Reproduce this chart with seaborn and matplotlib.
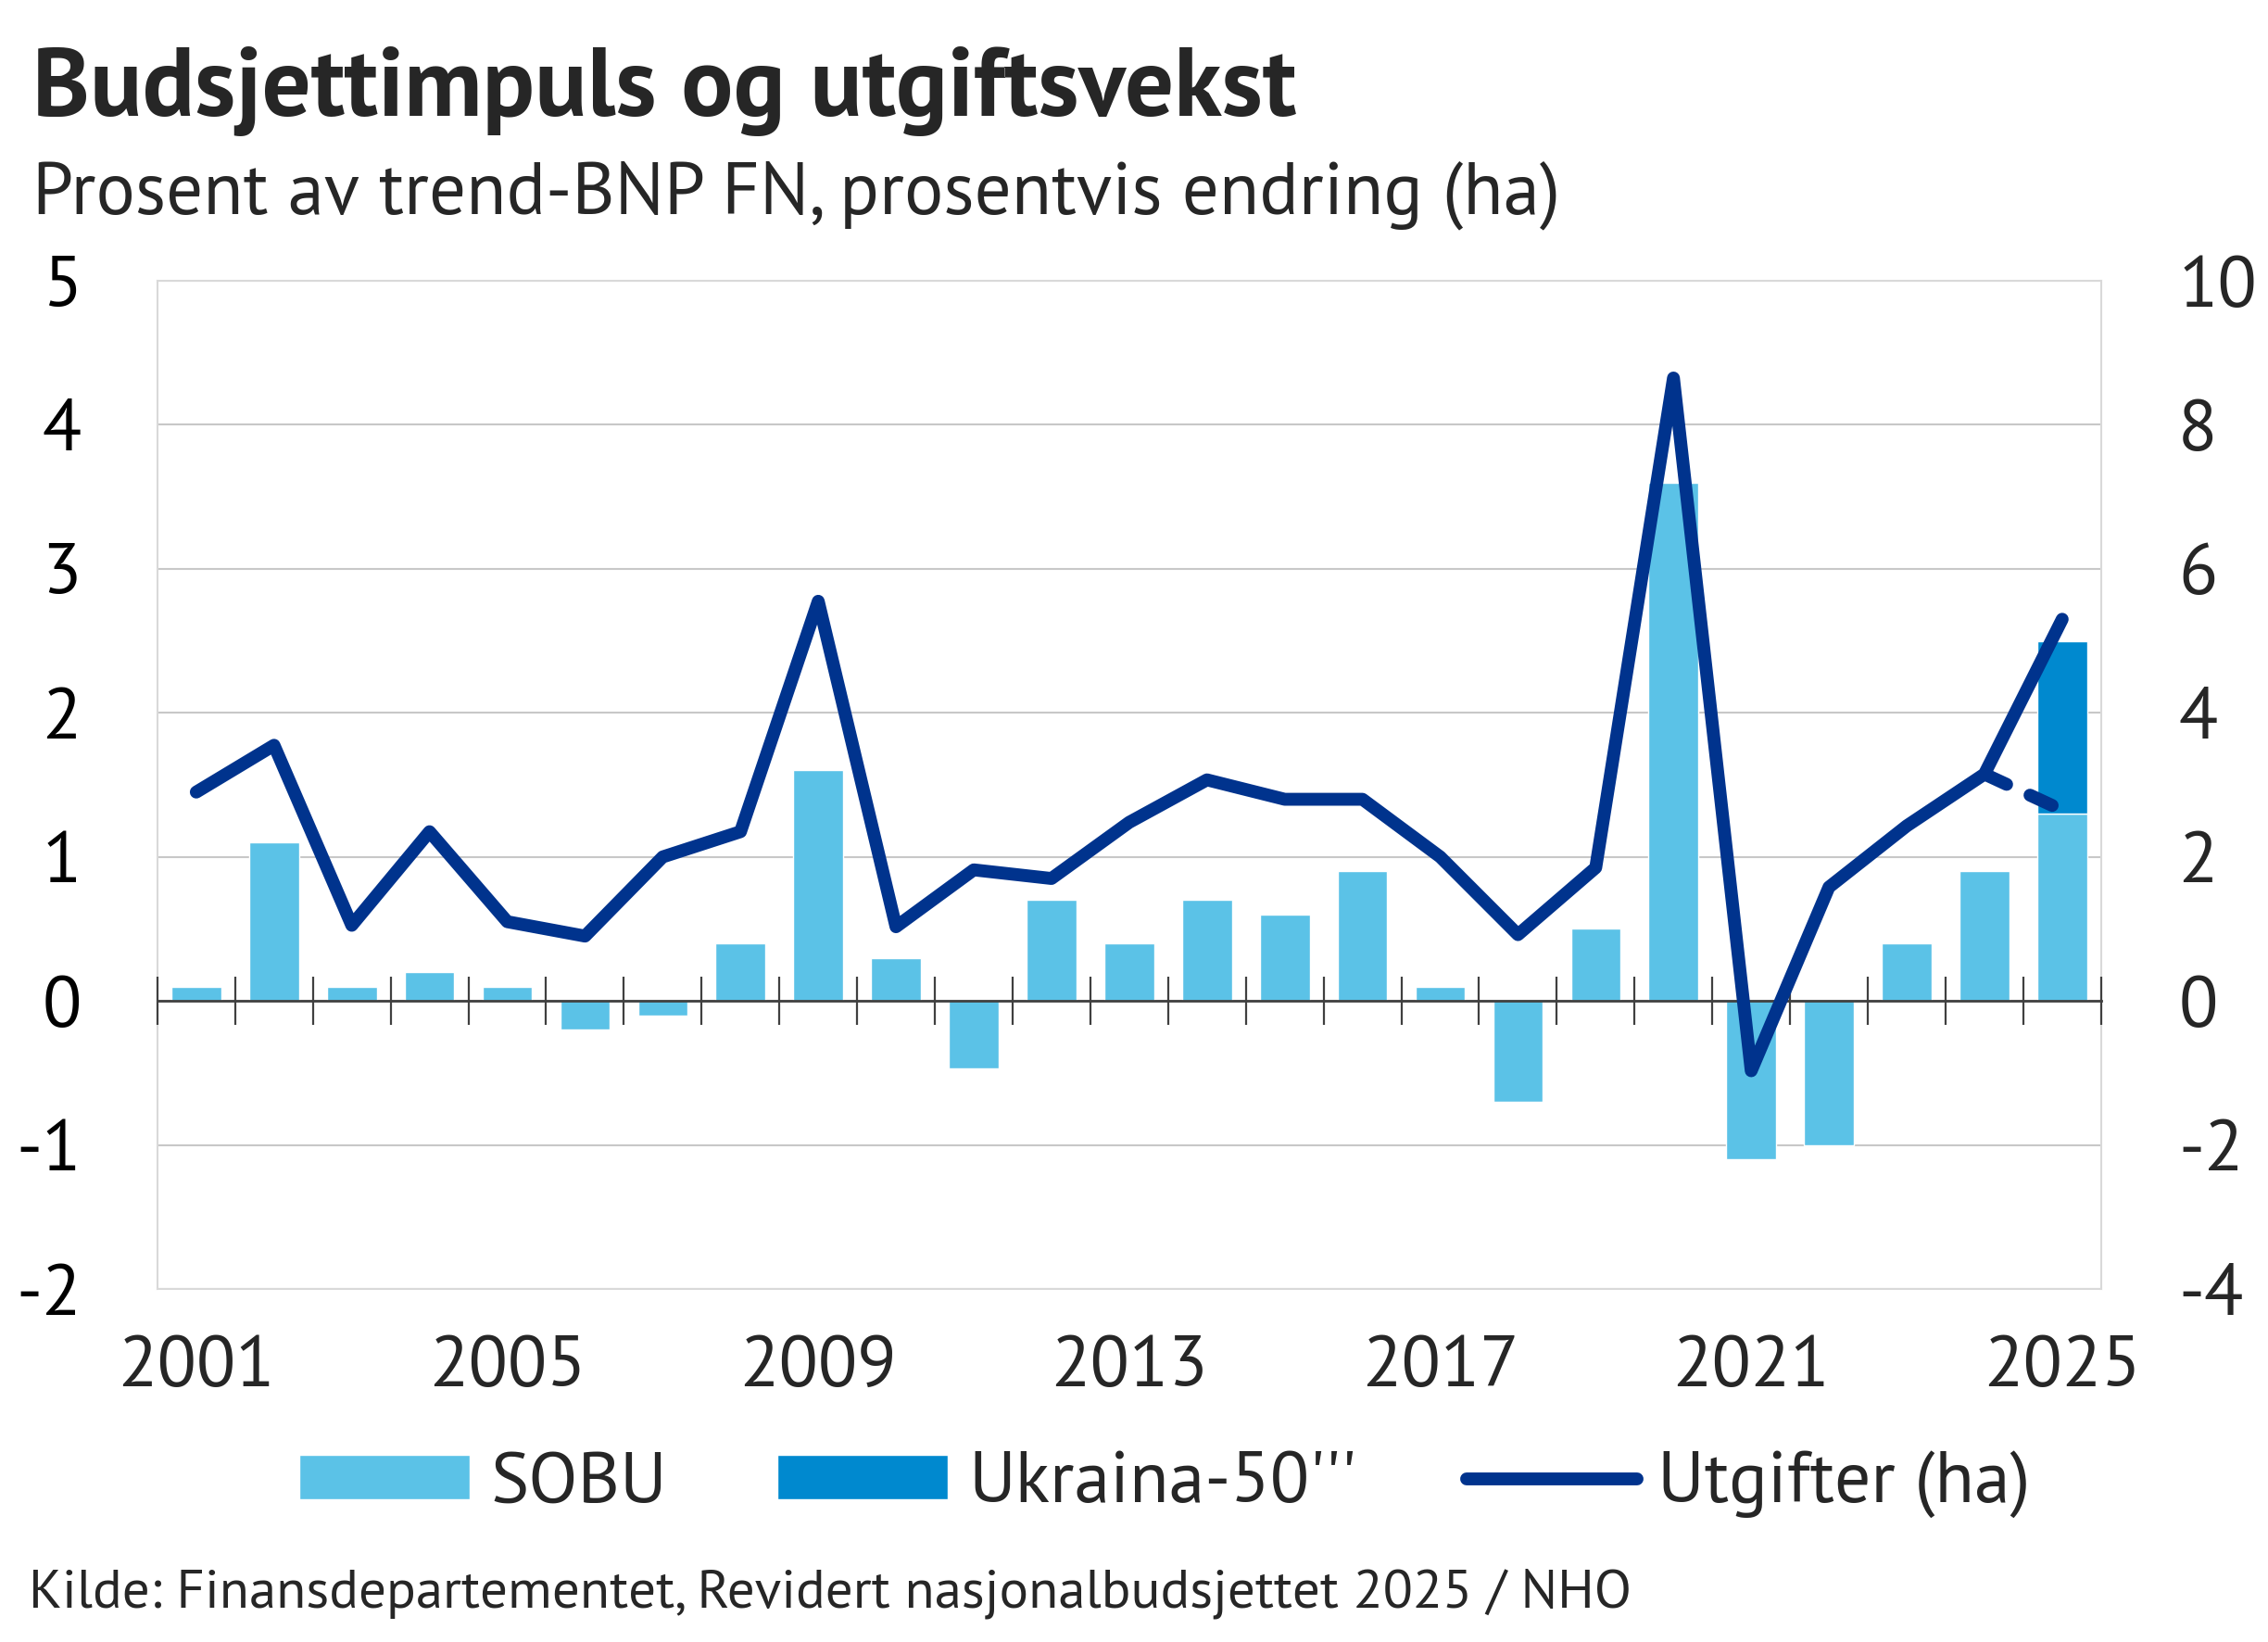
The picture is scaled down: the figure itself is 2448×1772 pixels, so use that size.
import numpy as np
import pandas as pd
import seaborn as sns
import matplotlib
matplotlib.use("Agg")
import matplotlib.pyplot as plt
from matplotlib.patches import Patch
from matplotlib.lines import Line2D

# data
years = ["2001", "2002", "2003", "2004", "2005", "2006", "2007", "2008", "2009",
         "2010", "2011", "2012", "2013", "2014", "2015", "2016", "2017", "2018",
         "2019", "2020", "2021", "2022", "2023", "2024", "2025"]
tick_years = ["2001", "2005", "2009", "2013", "2017", "2021", "2025"]

# budsjettimpuls, prosent av trend-BNP FN (venstre akse)
sobu = [0.1, 1.1, 0.1, 0.2, 0.1, -0.2, -0.1, 0.4, 1.6, 0.3, -0.47, 0.7, 0.4,
        0.7, 0.6, 0.9, 0.1, -0.7, 0.5, 3.6, -1.1, -1.0, 0.4, 0.9, 1.3]
ukraina_years = ["2025"]
ukraina = [1.2]

# utgiftsvekst, prosent (hoyre akse)
utgifter = [2.9, 3.55, 1.05, 2.35, 1.1, 0.9, 2.0, 2.35, 5.55, 1.03, 1.82, 1.7,
            2.48, 3.07, 2.8, 2.8, 2.0, 0.92, 1.85, 8.65, -0.97, 1.58, 2.43,
            3.15, 5.3]
utgifter_alt_years = ["2024", "2025"]
utgifter_alt = [3.15, 2.65]

sobu_color = "#5BC2E7"
ukraina_color = "#0089CF"
navy = "#00338D"
frame_gray = "#D9D9D9"
grid_gray = "#C8C8C8"
axis_gray = "#404040"

sns.set_style("white")
plt.rcParams["font.family"] = ["PT Sans", "DejaVu Sans"]
plt.rcParams["axes.unicode_minus"] = False

fig = plt.figure(figsize=(24.48, 17.72), dpi=100)
ax = fig.add_axes([0.0694, 0.2150, 0.8570, 0.6140])

# bars
sns.barplot(x=years, y=sobu, order=years, color=sobu_color, saturation=1,
            width=0.64, errorbar=None, zorder=1, ax=ax)
sns.barplot(x=ukraina_years, y=ukraina, order=years, color=ukraina_color,
            saturation=1, width=0.64, errorbar=None, zorder=1,
            bottom=sobu[years.index(ukraina_years[0])], ax=ax)

# tick marks between the categories, crossing the zero line
bounds = np.arange(-0.5, len(years), 1)
ax.plot(bounds, np.zeros_like(bounds), ls="none", marker="|", ms=37,
        mew=1.6, color=axis_gray, clip_on=False, zorder=3)

ax.set_xlim(-0.5, len(years) - 0.5)
ax.set_ylim(-2, 5)
ax.set_yticks(range(-2, 6))
ax.grid(False)
# horizontal gridlines behind the bars
for v in ax.get_yticks():
    ax.axhline(v, color=grid_gray, lw=1.5, zorder=0)
ax.set_xlabel("")
ax.set_ylabel("")

for s in ["left", "right", "top"]:
    ax.spines[s].set_color(frame_gray)
    ax.spines[s].set_linewidth(1.5)
ax.spines["bottom"].set_position(("data", 0))
ax.spines["bottom"].set_color(axis_gray)
ax.spines["bottom"].set_linewidth(2)

ax.set_xticks([])
ax.tick_params(axis="x", length=0, labelbottom=False)
ax.tick_params(axis="y", length=0, pad=59, labelsize=56, labelcolor="black")

# year labels at the bottom of the frame
sec = ax.secondary_xaxis("bottom")
sec.set_xticks([years.index(t) for t in tick_years], labels=tick_years)
sec.tick_params(length=0, pad=36, labelsize=56)
sec.spines["bottom"].set_color(frame_gray)
sec.spines["bottom"].set_linewidth(1.5)

# line on the right axis
ax2 = ax.twinx()
sns.lineplot(x=[years.index(y) for y in years], y=utgifter, color=navy,
             linewidth=10, solid_capstyle="round", solid_joinstyle="round",
             errorbar=None, ax=ax2)
sns.lineplot(x=[years.index(y) for y in utgifter_alt_years], y=utgifter_alt,
             color=navy, linewidth=10, linestyle=(0, (1.9, 2.0)),
             dash_capstyle="round", errorbar=None, ax=ax2)
ax2.set_xlim(-0.5, len(years) - 0.5)
ax2.set_ylim(-4, 10)
ax2.set_yticks(range(-4, 11, 2))
ax2.tick_params(axis="y", length=0, pad=60, labelsize=56)
ax2.set_ylabel("")
ax2.grid(False)
for s in ax2.spines.values():
    s.set_visible(False)

# legend
handles = [Patch(facecolor=sobu_color), Patch(facecolor=ukraina_color),
           Line2D([], [], color=navy, lw=10, solid_capstyle="round")]
labels = ["SOBU", "Ukraina-50'''", "Utgifter (ha)"]
fig.legend(handles, labels, loc="center", bbox_to_anchor=(0.5136, 0.0959),
           ncol=3, frameon=False, fontsize=56, handlelength=2.37,
           handleheight=0.57, handletextpad=0.28, columnspacing=1.53,
           borderpad=0, borderaxespad=0)

# texts
fig.text(0.0143, 0.9295, "Budsjettimpuls og utgiftsvekst", fontsize=75.5,
         fontweight="bold", va="baseline")
fig.text(0.0143, 0.8702, "Prosent av trend-BNP FN, prosentvis endring (ha)",
         fontsize=57, va="baseline")
fig.text(0.0125, 0.0209,
         "Kilde: Finansdepartementet, Revidert nasjonalbudsjettet 2025 / NHO",
         fontsize=42.5, va="baseline")

fig.savefig("out.png", dpi=100)
